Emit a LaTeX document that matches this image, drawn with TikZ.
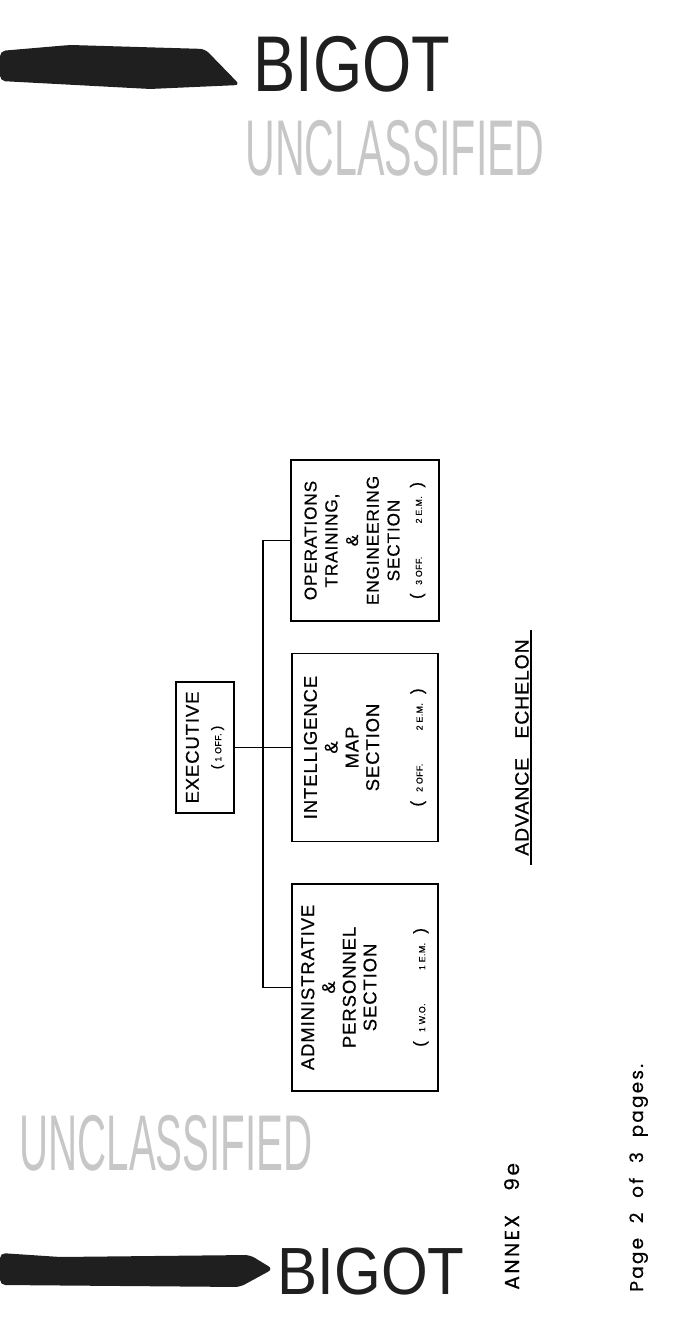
\documentclass[tikz,border=0pt]{standalone}
\usepackage{fontspec}
\usepackage{graphicx}
\setmainfont{Liberation Sans}
\newfontfamily\lettering[LetterSpace=5, FakeBold=0.6]{Liberation Sans}
\newfontfamily\typed[LetterSpace=12, FakeBold=0.5]{Poppins}
\usetikzlibrary{calc}
\definecolor{ink}{gray}{0.12}
\definecolor{stamp}{gray}{0.78}
\newcommand{\officers}[1]{{\fontsize{8}{9}\selectfont(}\,{\fontsize{5}{6}\selectfont #1}\,{\fontsize{8}{9}\selectfont)}}
\newcommand{\strength}[2]{{\fontsize{9.5}{10}\selectfont(}\hspace{0.5em}{\fontsize{5}{6}\selectfont #1\hspace{3.8em}#2}\hspace{0.5em}{\fontsize{9.5}{10}\selectfont)}}

\begin{document}
\begin{tikzpicture}[x=0.02cm, y=0.02cm,
    unit/.style={draw, line width=0.8pt, align=center, inner sep=0pt,
      font=\lettering\fontsize{10.5}{11.8}\selectfont},
    stampmark/.style={inner sep=0pt, font=\fontsize{45}{45}\selectfont}]
  \useasboundingbox (0,0) rectangle (690,1317);
  % stamps, upright on the sheet
  \fill[ink, rounded corners=3pt] (0,1266) -- (70,1272) -- (205,1268) -- (240,1232) -- (150,1228) -- (0,1236) -- cycle;
  \node (bigotA) [stampmark, ink] at (352,1253) {\scalebox{0.8}[1]{BIGOT}};
  \node (unclA) [stampmark, stamp] at (395,1169) {\scalebox{0.52}[1]{UNCLASSIFIED}};
  \node (unclB) [stampmark, stamp] at (166,174) {\scalebox{0.51}[1]{UNCLASSIFIED}};
  \fill[ink, rounded corners=3pt] (0,64) -- (60,60) -- (250,62) -- (273,48) -- (240,30) -- (0,32) -- cycle;
  \node (bigotB) [stampmark, ink, font=\fontsize{38}{38}\selectfont] at (371,45) {\scalebox{0.9}[1]{BIGOT}};
  % the chart, turned a quarter
  \begin{scope}[shift={(690,0)}, rotate=90, transform shape]
    \node (exec) [unit, minimum width=2.62cm, minimum height=1.16cm] at (569.5,485) {EXECUTIVE\\[1pt]\officers{1 OFF.}};
    \node (intel) [unit, node distance=3.2cm, below of=exec, minimum width=3.76cm, minimum height=2.92cm]
      {INTELLIGENCE\\ \&\\ MAP\\ SECTION\\[13pt]\strength{2 OFF.}{2 E.M.}};
    \node (admin) [unit, node distance=4.8cm, left of=intel, minimum width=4.14cm, minimum height=2.92cm]
      {ADMINISTRATIVE\\ \&\\ PERSONNEL\\ SECTION\\[16pt]\strength{1 W.O.}{1 E.M.}};
    \node (ops) [unit, node distance=4.14cm, right of=intel, minimum width=3.22cm, minimum height=2.96cm,
      font=\lettering\fontsize{9.8}{11.8}\selectfont]
      {OPERATIONS\\ TRAINING,\\ \&\\ ENGINEERING\\ SECTION\\[1pt]\strength{3 OFF.}{2 E.M.}};
    \draw[line width=0.8pt] (exec) -- (intel);
    \draw[line width=0.8pt] (admin.north) |- ($(exec.south)!0.5!(intel.north)$) -| (ops.north);
    \node (echelon) [node distance=3.14cm, below of=intel, inner xsep=5pt, inner ysep=1pt,
      font=\lettering\fontsize{11}{12}\selectfont] {ADVANCE\hspace{1em}ECHELON};
    \draw[line width=0.8pt] (echelon.south west) -- (echelon.south east);
    \node (annex) [anchor=base west, inner sep=0pt, font=\typed\fontsize{11.5}{12}\selectfont] at (27,171) {ANNEX\hspace{1.2em}9e};
    \node (page) [anchor=base west, inner sep=0pt, font=\typed\fontsize{10.5}{12}\selectfont] at (25,47)
      {Page\hspace{0.8em}2\hspace{0.8em}of\hspace{0.8em}3\hspace{0.8em}pages.};
  \end{scope}
\end{tikzpicture}
\end{document}
